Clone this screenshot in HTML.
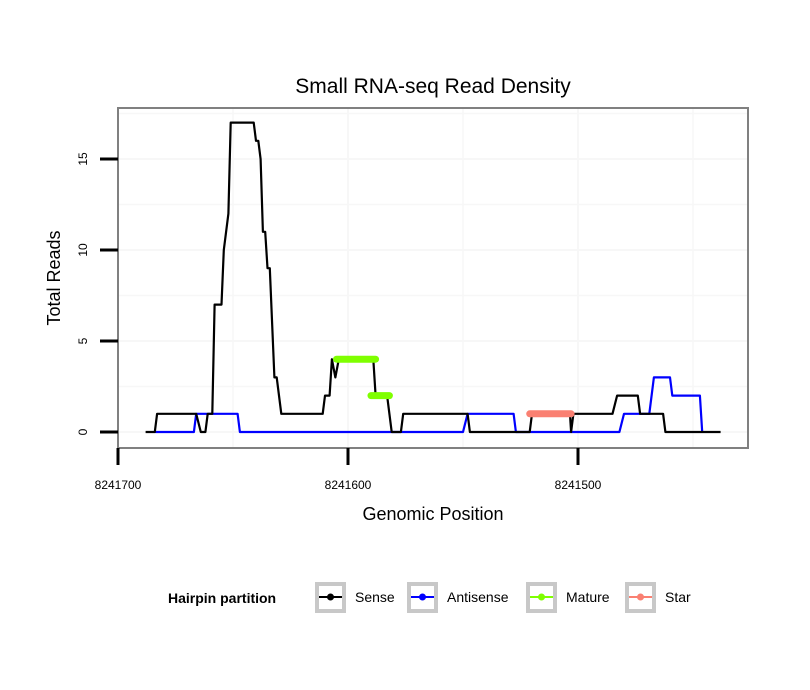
<!DOCTYPE html>
<html><head><meta charset="utf-8"><style>
body{margin:0;background:#fff;}
svg{display:block;font-family:"Liberation Sans",sans-serif;}
</style></head><body>
<svg id="chart" width="810" height="690" viewBox="0 0 810 690">
<rect x="0" y="0" width="810" height="690" fill="#fff"/>
<text x="433" y="93" font-size="21" text-anchor="middle">Small RNA-seq Read Density</text>
<g id="grid"></g>
<g id="series"></g>
<rect x="118" y="108" width="630" height="340" fill="none" stroke="#808080" stroke-width="2"/>
<g id="axes"></g>
<text x="433" y="520" font-size="18" text-anchor="middle">Genomic Position</text>
<text transform="translate(60,278) rotate(-90)" font-size="18" text-anchor="middle">Total Reads</text>
<g>
<text x="168" y="603" font-size="14" font-weight="bold">Hairpin partition</text>
<g id="legend"></g>
</g>
</svg>
<script>
const senseX=[8241688,8241684,8241683,8241666,8241664,8241662,8241661,8241659,8241658,8241655,8241654,8241652,8241651,8241641,8241640,8241639,8241638,8241637,8241636,8241635,8241634,8241632,8241631,8241629,8241611,8241610,8241608,8241607,8241605.5,8241604,8241589,8241588,8241583,8241581,8241577,8241576,8241548,8241547,8241521,8241520,8241503.5,8241503,8241502,8241485,8241483,8241474,8241473,8241463,8241462,8241438];
const senseY=[0,0,1,1,0,0,1,1,7,7,10,12,17,17,16,16,15,11,11,9,9,3,3,1,1,2,2,4,3,4,4,2,2,0,0,1,1,0,0,1,1,0,1,1,2,2,1,1,0,0];
const antiX=[8241684,8241667,8241666,8241648,8241647,8241550,8241548,8241528,8241527,8241482,8241480,8241469,8241467,8241460,8241459,8241447,8241446];
const antiY=[0,0,1,1,0,0,1,1,0,0,1,1,3,3,2,2,0];
const matureX=[[8241605,8241588],[8241590,8241582]];
const matureY=[4,2];
const starX=[[8241521,8241503]];
const starY=[1];
const yTicks=[0,5,10,15];
const xTicks=[8241700,8241600,8241500];

const NS="http://www.w3.org/2000/svg";
const X=p=>118+(8241700-p)*2.3;
const Y=v=>432-v*18.2;
function mk(tag,attrs,parent){const e=document.createElementNS(NS,tag);for(const k in attrs)e.setAttribute(k,attrs[k]);parent.appendChild(e);return e;}
const grid=document.getElementById('grid'),ser=document.getElementById('series'),ax=document.getElementById('axes'),lg=document.getElementById('legend');
for(let v=0;v<=17.5;v+=2.5){const l=mk('line',{x1:118,x2:748,y1:Y(v),y2:Y(v),stroke:'#f7f7f7','stroke-width':v%5===0?2:1.5},grid);

}
for(let p=8241700;p>=8241425;p-=50){const l=mk('line',{x1:X(p),x2:X(p),y1:108,y2:448,stroke:'#f7f7f7','stroke-width':p%100===0?2:1.5},grid);

}
function path(xs,ys,color,name){let d='';xs.forEach((p,i)=>{d+=(i?'L':'M')+X(p)+' '+Y(ys[i]);});const e=mk('path',{d:d,fill:'none',stroke:color,'stroke-width':2.2,'stroke-linejoin':'round'},ser);

}
path(antiX,antiY,'#0000ff','antisense-line');
path(senseX,senseY,'#000','sense-line');
function segs(xs,ys,color,name){xs.forEach((r,i)=>{const e=mk('line',{x1:X(r[0]),x2:X(r[1]),y1:Y(ys[i]),y2:Y(ys[i]),stroke:color,'stroke-width':7,'stroke-linecap':'round'},ser);

});}
segs(matureX,matureY,'#7fff00','mature-segment');
segs(starX,starY,'#fa8072','star-segment');
yTicks.forEach(v=>{const t=mk('line',{x1:100,x2:118,y1:Y(v),y2:Y(v),stroke:'#000','stroke-width':3},ax);


const tx=mk('text',{transform:`translate(87,${Y(v)}) rotate(-90)`,'font-size':12,'text-anchor':'middle'},ax);tx.textContent=v;

});
xTicks.forEach(p=>{const t=mk('line',{x1:X(p),x2:X(p),y1:448,y2:465,stroke:'#000','stroke-width':3},ax);


const tx=mk('text',{x:X(p),y:489,'font-size':12,'text-anchor':'middle'},ax);tx.textContent=p;

});
const legNames=['Sense','Antisense','Mature','Star'],legCols=['#000','#0000ff','#7fff00','#fa8072'],legBox=[315,407,526,625];
legNames.forEach((n,i)=>{const g=mk('g',{},lg);


const b=legBox[i];mk('rect',{x:b+2,y:584,width:27,height:27,fill:'#fff',stroke:'#c8c8c8','stroke-width':4},g);
mk('line',{x1:b+4,x2:b+27,y1:597,y2:597,stroke:legCols[i],'stroke-width':2},g);
mk('circle',{cx:b+15.5,cy:597,r:3.5,fill:legCols[i]},g);
const t=mk('text',{x:b+40,y:602,'font-size':14},g);t.textContent=n;});
</script>
</body></html>
